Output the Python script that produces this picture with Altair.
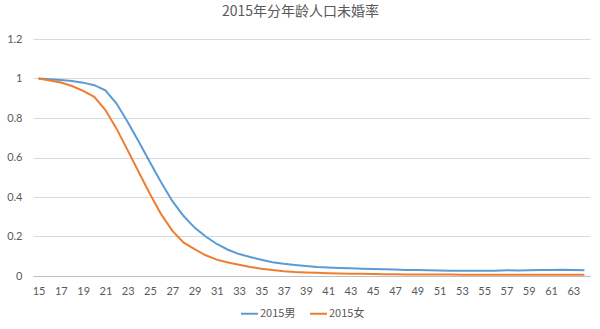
import altair as alt
import pandas as pd

ages = list(range(15, 65))
male = [1.0, 0.996, 0.993, 0.987, 0.979, 0.966, 0.94, 0.873, 0.78, 0.68, 0.576, 0.475, 0.38, 0.305, 0.245, 0.2,
        0.162, 0.133, 0.111, 0.096, 0.082, 0.07, 0.062, 0.056, 0.051, 0.046, 0.043, 0.041, 0.039, 0.037,
        0.035, 0.034, 0.033, 0.031, 0.03, 0.029, 0.028, 0.027, 0.026, 0.026, 0.026, 0.027, 0.029, 0.028,
        0.029, 0.03, 0.03, 0.032, 0.03, 0.029]
female = [1.0, 0.99, 0.98, 0.962, 0.937, 0.907, 0.84, 0.746, 0.636, 0.525, 0.415, 0.313, 0.23, 0.17, 0.136, 0.105,
          0.083, 0.068, 0.057, 0.046, 0.037, 0.03, 0.024, 0.02, 0.018, 0.016, 0.014, 0.013, 0.012, 0.011,
          0.01, 0.009, 0.009, 0.008, 0.008, 0.007, 0.007, 0.007, 0.006, 0.006, 0.006, 0.006, 0.006, 0.006,
          0.006, 0.006, 0.006, 0.006, 0.006, 0.006]
series = ["2015男", "2015女"]
colors = ["#5B9BD5", "#ED7D31"]
x_ticks = list(range(15, 64, 2))
y_ticks = [0, 0.2, 0.4, 0.6, 0.8, 1, 1.2]

rows = []
for i, a in enumerate(ages):
    rows.append({"age": a, "series": series[0], "rate": male[i]})
    rows.append({"age": a, "series": series[1], "rate": female[i]})
df = pd.DataFrame(rows)

font = "Lato"
cjk = "Noto Sans CJK SC"

chart = alt.Chart(df).mark_line(strokeWidth=2).encode(
    x=alt.X("age:Q",
            scale=alt.Scale(domain=[14.5, 64.5], nice=False, zero=False),
            axis=alt.Axis(values=x_ticks, title=None, grid=False, ticks=False,
                          domainColor="#BFBFBF", labelColor="#595959", labelFontSize=11,
                          labelFont=font, labelPadding=9, labelFlush=False)),
    y=alt.Y("rate:Q",
            scale=alt.Scale(domain=[0, 1.2], nice=False),
            axis=alt.Axis(values=y_ticks, format=".1~f", title=None, ticks=False, domain=False,
                          gridColor="#D9D9D9", labelColor="#595959", labelFontSize=11,
                          labelFont=font, labelPadding=11)),
    color=alt.Color("series:N", sort=series,
                    scale=alt.Scale(domain=series, range=colors),
                    legend=alt.Legend(title=None, orient="none", legendX=207, legendY=265,
                                      direction="horizontal", symbolType="stroke",
                                      symbolStrokeWidth=2, symbolSize=289,
                                      labelFont=cjk, labelFontSize=11, labelColor="#595959",
                                      columnPadding=10, labelOffset=1)),
    order=alt.Order("age:Q"),
).properties(
    width=557, height=237,
    padding={"left": 33, "top": 39, "right": 10, "bottom": 53},
    autosize="none",
    background="white",
    title=alt.TitleParams("2015年分年龄人口未婚率", font=cjk, fontSize=14, fontWeight="normal",
                          color="#595959", anchor="middle", dx=-11, offset=14),
).configure_view(stroke="transparent", strokeWidth=0)

chart.save("out.html", embed_options={"renderer": "svg", "actions": False})
